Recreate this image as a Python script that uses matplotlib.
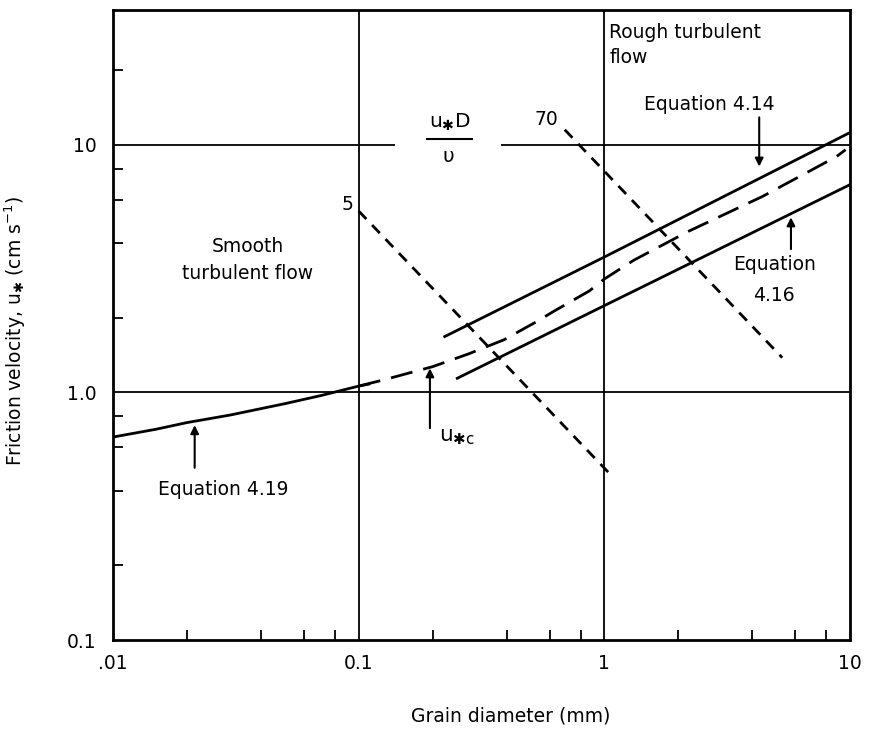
import matplotlib
matplotlib.use('Agg')
import matplotlib.pyplot as plt
from matplotlib.ticker import LogLocator, FixedLocator, FixedFormatter, NullFormatter

# grain diameter (mm) vs friction velocity (cm/s)
eq419_d = [0.01, 0.015, 0.02, 0.03, 0.05, 0.07, 0.1, 0.11]
eq419_u = [0.66, 0.71, 0.755, 0.81, 0.90, 0.97, 1.06, 1.08]

ustar_c_d = [0.1, 0.125, 0.2, 0.28, 0.39, 0.53, 0.62, 0.87, 1.0, 1.32, 2.2, 4.4, 8.8, 9.6]
ustar_c_u = [1.06, 1.12, 1.27, 1.43, 1.63, 1.93, 2.12, 2.57, 2.87, 3.42, 4.47, 6.18, 8.95, 9.55]

eq414_d = [0.224, 1.0, 10.0]
eq414_u = [1.68, 3.52, 11.2]

eq416_d = [0.252, 1.0, 10.0]
eq416_u = [1.14, 2.24, 6.9]

re5_d = [0.1, 1.05]
re5_u = [5.4, 0.47]
re70_d = [0.69, 5.3]
re70_u = [11.5, 1.38]

x_ticks = [0.01, 0.1, 1, 10]
x_labels = ['.01', '0.1', '1', '10']
y_ticks = [0.1, 1, 10]
y_labels = ['0.1', '1.0', '10']

plt.rcParams['font.family'] = ['DejaVu Sans']
fs = 13.5

fig = plt.figure(figsize=(8.7, 7.36), dpi=100)
ax = fig.add_axes([113 / 870, 96 / 736, 737 / 870, 630 / 736])
ax.set_xscale('log')
ax.set_yscale('log')
ax.set_xlim(0.01, 10)
ax.set_ylim(0.1, 35)

# reference lines
ax.axvline(0.1, color='k', lw=1.3)
ax.axvline(1, color='k', lw=1.3)
ax.axhline(1, color='k', lw=1.3)
ax.hlines(10, 0.01, 0.14, color='k', lw=1.3)
ax.hlines(10, 0.38, 10, color='k', lw=1.3)

ax.plot(eq419_d, eq419_u, color='k', lw=2)
ax.plot(ustar_c_d, ustar_c_u, color='k', lw=2, dashes=(8, 4))
ax.plot(eq414_d, eq414_u, color='k', lw=2)
ax.plot(eq416_d, eq416_u, color='k', lw=2)
ax.plot(re5_d, re5_u, color='k', lw=2, dashes=(4, 3))
ax.plot(re70_d, re70_u, color='k', lw=2, dashes=(4, 3))

arrow = dict(arrowstyle='-|>', color='k', lw=1.5, mutation_scale=12, shrinkA=0, shrinkB=0)
ax.annotate('', xy=(0.0215, 0.737), xytext=(0.0215, 0.496), arrowprops=arrow)
ax.annotate('', xy=(0.195, 1.25), xytext=(0.195, 0.717), arrowprops=arrow)
ax.annotate('', xy=(4.27, 8.16), xytext=(4.27, 12.9), arrowprops=arrow)
ax.annotate('', xy=(5.75, 5.09), xytext=(5.75, 3.79), arrowprops=arrow)

ax.text(0.028, 0.404, 'Equation 4.19', fontsize=fs, ha='center', va='center')
ax.text(0.213, 0.66, r'$\mathregular{u_{✱c}}$', fontsize=fs + 2, ha='left', va='center')
ax.text(2.67, 14.5, 'Equation 4.14', fontsize=fs, ha='center', va='center')
ax.text(4.91, 2.85, 'Equation\n4.16', fontsize=fs, ha='center', va='center',
        multialignment='center', linespacing=1.8)
ax.text(0.0354, 3.42, 'Smooth\nturbulent flow', fontsize=fs, ha='center', va='center',
        multialignment='center', linespacing=1.5)
ax.text(1.048, 31, 'Rough turbulent\nflow', fontsize=fs, ha='left', va='top', linespacing=1.4)

# u*D/nu label drawn as numerator, bar, denominator
ax.text(0.236, 12.3, r'$\mathregular{u_{✱}D}$', fontsize=fs + 1, ha='center', va='center')
ax.plot([0.19, 0.29], [10.55, 10.55], color='k', lw=1.5)
ax.text(0.232, 9.0, 'υ', fontsize=fs + 1, ha='center', va='center')

ax.text(0.09, 5.74, '5', fontsize=fs, ha='center', va='center')
ax.text(0.58, 12.6, '70', fontsize=fs, ha='center', va='center')

ax.xaxis.set_major_locator(FixedLocator(x_ticks))
ax.xaxis.set_major_formatter(FixedFormatter(x_labels))
ax.yaxis.set_major_locator(FixedLocator(y_ticks))
ax.yaxis.set_major_formatter(FixedFormatter(y_labels))
ax.xaxis.set_minor_locator(LogLocator(base=10, subs=(2, 4, 6, 8)))
ax.yaxis.set_minor_locator(LogLocator(base=10, subs=(2, 4, 6, 8)))
ax.xaxis.set_minor_formatter(NullFormatter())
ax.yaxis.set_minor_formatter(NullFormatter())
ax.tick_params(which='both', direction='in', labelsize=fs, width=1.3)
ax.tick_params(which='major', length=0)
ax.tick_params(which='minor', length=7)
ax.tick_params(axis='x', pad=10)
ax.tick_params(axis='y', pad=12)
for s in ax.spines.values():
    s.set_linewidth(2)

ax.set_xlabel('Grain diameter (mm)', fontsize=fs)
ax.xaxis.set_label_coords(0.54, -0.105)
ax.set_ylabel(r'Friction velocity, $\mathregular{u_{✱}}$ (cm s$^{\mathregular{-1}}$)', fontsize=fs)
ax.yaxis.set_label_coords(-0.115, 0.49)

fig.savefig('out.png', dpi=100)
